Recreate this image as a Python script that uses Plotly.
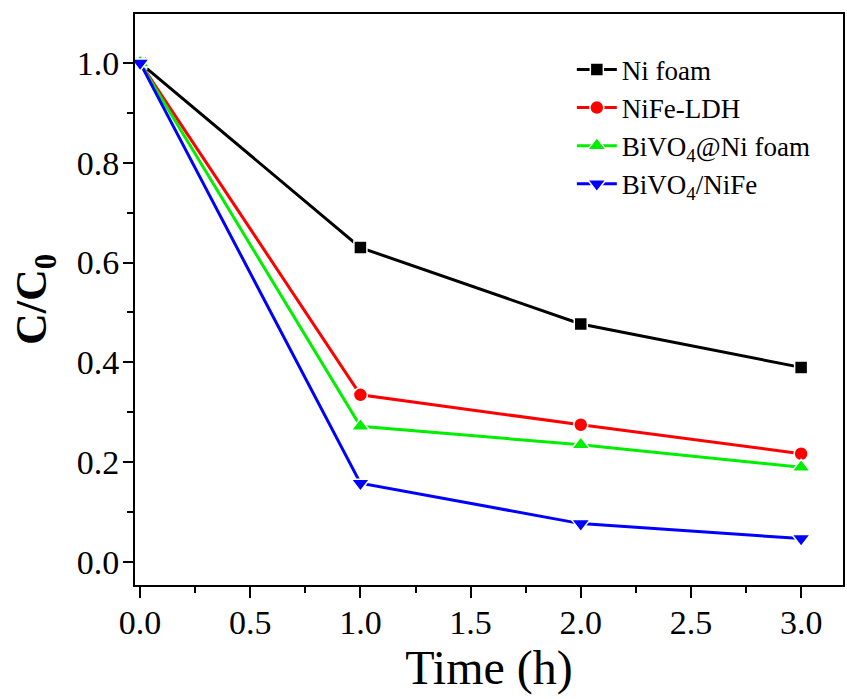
import plotly.graph_objects as go

time_h = [0, 1, 2, 3]
ni_foam = [1.0, 0.630, 0.477, 0.390]
nife_ldh = [1.0, 0.335, 0.275, 0.217]
bivo4_ni = [1.0, 0.272, 0.235, 0.190]
bivo4_nife = [1.0, 0.158, 0.077, 0.047]

names = ["Ni foam", "NiFe-LDH", "BiVO<sub>4</sub>@Ni foam", "BiVO<sub>4</sub>/NiFe"]
colors = ["#000000", "#ff0000", "#00ee00", "#0000ff"]
symbols = ["square", "circle", "triangle-up", "triangle-down"]
sizes = [13, 14, 16, 16]
series = [ni_foam, nife_ldh, bivo4_ni, bivo4_nife]

fig = go.Figure()
for i, (nm, c, s, sz, ys) in enumerate(zip(names, colors, symbols, sizes, series)):
    fig.add_trace(go.Scatter(
        x=time_h, y=ys, name=nm, mode="lines+markers",
        line=dict(color=c, width=3),
        marker=dict(symbol=s, size=sz, color=c, line=dict(color="white", width=1.5)),
        legendgroup="g%d" % i,
    ))

font = "Liberation Serif, serif"
fig.update_layout(
    width=847, height=699,
    margin=dict(l=135, r=2, t=14, b=114),
    paper_bgcolor="white", plot_bgcolor="white",
    font=dict(family=font, color="black", size=34),
    showlegend=True,
    legend=dict(x=0.617, y=0.945, xanchor="left", yanchor="top",
                font=dict(family=font, size=27, color="black"),
                bgcolor="rgba(0,0,0,0)", tracegroupgap=0, itemwidth=40),
)
fig.update_xaxes(
    range=[-0.023, 3.19], tickmode="linear", tick0=0, dtick=0.5, tickformat=".1f",
    ticks="outside", ticklen=11, tickwidth=2, tickcolor="black",
    minor=dict(tick0=0.25, dtick=0.25, ticks="outside", ticklen=6, tickwidth=2, tickcolor="black"),
    showline=True, linecolor="black", linewidth=2, mirror=True,
    showgrid=False, zeroline=False,
    tickfont_family="Liberation Serif", tickfont_size=34, tickfont_color="black",
    ticklabelstandoff=-5,
    title=dict(text="Time (h)", font=dict(family=font, size=48, color="black"), standoff=2),
)
fig.update_yaxes(
    range=[-0.046, 1.098], tickmode="linear", tick0=0, dtick=0.2, tickformat=".1f",
    ticks="outside", ticklen=10, tickwidth=2, tickcolor="black",
    minor=dict(dtick=0.1, ticks="outside", ticklen=6, tickwidth=2, tickcolor="black"),
    showline=True, linecolor="black", linewidth=2, mirror=True,
    showgrid=False, zeroline=False,
    tickfont_family="Liberation Serif", tickfont_size=34, tickfont_color="black",
    ticklabelstandoff=-3,
    title=dict(text="<b>C/C<sub>0</sub></b>", font=dict(family=font, size=44, color="black"), standoff=16),
)

fig.write_html("out.html")
